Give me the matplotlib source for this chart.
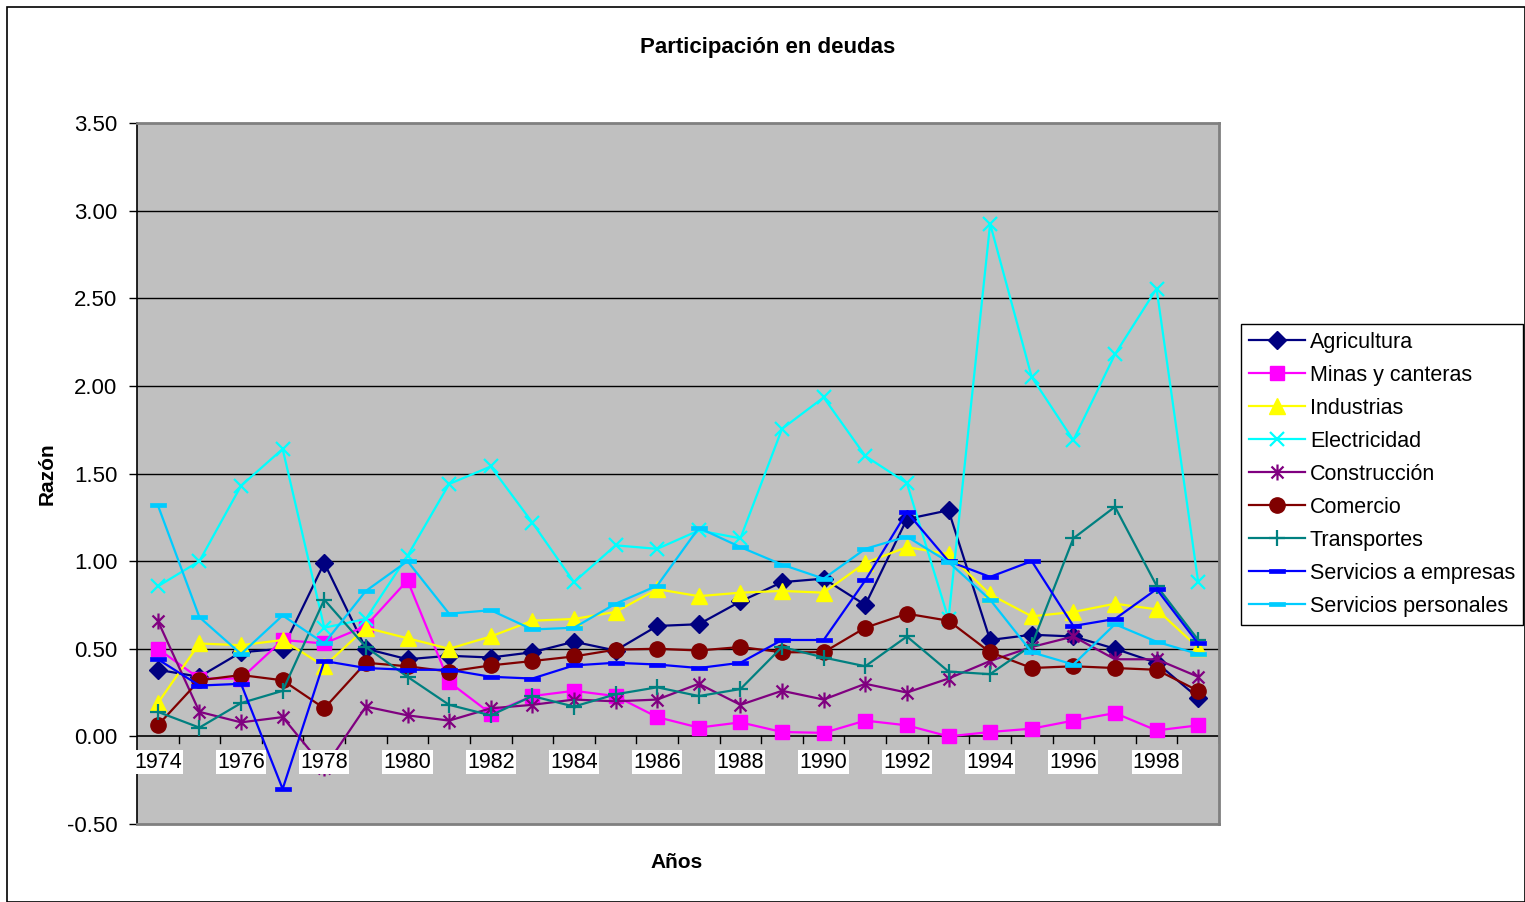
import matplotlib
matplotlib.use("Agg")
import matplotlib.pyplot as plt
from matplotlib.path import Path
from matplotlib.patches import Rectangle
import numpy as np

plt.rcParams['font.family'] = ['Liberation Sans', 'DejaVu Sans']

years = list(range(1974, 2000))
tick_labels = [str(y) for y in range(1974, 1999, 2)]

agricultura = [0.38, 0.34, 0.48, 0.50, 0.99, 0.50, 0.44, 0.46, 0.45, 0.48, 0.54, 0.49, 0.63,
               0.64, 0.77, 0.88, 0.90, 0.75, 1.24, 1.29, 0.55, 0.58, 0.57, 0.50, 0.42, 0.22]
minas = [0.50, 0.33, 0.33, 0.55, 0.53, 0.63, 0.89, 0.31, 0.13, 0.23, 0.26, 0.23, 0.11,
         0.05, 0.08, 0.025, 0.02, 0.09, 0.063, 0.00, 0.025, 0.044, 0.09, 0.133, 0.034, 0.063]
industrias = [0.19, 0.53, 0.52, 0.55, 0.40, 0.62, 0.56, 0.50, 0.57, 0.66, 0.67, 0.71, 0.84,
              0.80, 0.82, 0.83, 0.82, 0.99, 1.08, 1.04, 0.81, 0.685, 0.71, 0.757, 0.725, 0.506]
electricidad = [0.856, 1.00, 1.43, 1.64, 0.62, 0.67, 1.03, 1.44, 1.54, 1.22, 0.88, 1.09, 1.07,
                1.175, 1.13, 1.755, 1.934, 1.60, 1.445, 0.67, 2.925, 2.05, 1.69, 2.18, 2.555, 0.88]
construccion = [0.66, 0.14, 0.08, 0.11, -0.18, 0.17, 0.12, 0.09, 0.16, 0.18, 0.21, 0.20, 0.21,
                0.30, 0.18, 0.26, 0.21, 0.30, 0.25, 0.33, 0.43, 0.51, 0.57, 0.44, 0.44, 0.34]
comercio = [0.063, 0.32, 0.35, 0.32, 0.16, 0.42, 0.40, 0.37, 0.405, 0.43, 0.456, 0.495, 0.50,
            0.49, 0.51, 0.48, 0.48, 0.62, 0.70, 0.66, 0.48, 0.39, 0.40, 0.39, 0.38, 0.26]
transportes = [0.14, 0.05, 0.19, 0.26, 0.78, 0.51, 0.34, 0.18, 0.12, 0.23, 0.17, 0.24, 0.28,
               0.23, 0.27, 0.51, 0.45, 0.40, 0.57, 0.37, 0.355, 0.52, 1.13, 1.31, 0.86, 0.55]
serv_empresas = [0.44, 0.29, 0.30, -0.30, 0.43, 0.39, 0.38, 0.38, 0.34, 0.33, 0.405, 0.42, 0.41,
                 0.39, 0.42, 0.55, 0.55, 0.89, 1.28, 1.00, 0.91, 1.00, 0.63, 0.67, 0.84, 0.53]
serv_personales = [1.32, 0.68, 0.47, 0.69, 0.53, 0.83, 1.00, 0.70, 0.72, 0.61, 0.62, 0.757, 0.86,
                   1.19, 1.08, 0.98, 0.90, 1.07, 1.14, 0.995, 0.78, 0.48, 0.41, 0.64, 0.54, 0.47]

series_names = ["Agricultura", "Minas y canteras", "Industrias", "Electricidad", "Construcción",
                "Comercio", "Transportes", "Servicios a empresas", "Servicios personales"]
series_values = [agricultura, minas, industrias, electricidad, construccion, comercio,
                 transportes, serv_empresas, serv_personales]

# marker shapes
star_path = Path([(0, -1), (0, 1), (-0.75, -0.75), (0.75, 0.75), (-0.75, 0.75), (0.75, -0.75)],
                 [Path.MOVETO, Path.LINETO, Path.MOVETO, Path.LINETO, Path.MOVETO, Path.LINETO])
dash_path = Path([(-1, -0.22), (1, -0.22), (1, 0.22), (-1, 0.22), (-1, -0.22)],
                 [Path.MOVETO, Path.LINETO, Path.LINETO, Path.LINETO, Path.CLOSEPOLY])

styles = [
    dict(color='#000080', marker='D', ms=9, mfc='#000080', mec='#000080', mew=1),
    dict(color='#FF00FF', marker='s', ms=10.5, mfc='#FF00FF', mec='#FF00FF', mew=1),
    dict(color='#FFFF00', marker='^', ms=11.5, mfc='#FFFF00', mec='#FFFF00', mew=1),
    dict(color='#00FFFF', marker='x', ms=10.5, mec='#00FFFF', mew=1.6),
    dict(color='#800080', marker=star_path, ms=11.5, mec='#800080', mfc='none', mew=1.6),
    dict(color='#800000', marker='o', ms=11, mfc='#800000', mec='#800000', mew=1),
    dict(color='#008080', marker='+', ms=11.5, mec='#008080', mew=1.6),
    dict(color='#0000FF', marker=dash_path, ms=11, mfc='#0000FF', mec='#0000FF', mew=0.5),
    dict(color='#00CCFF', marker=dash_path, ms=11, mfc='#00CCFF', mec='#00CCFF', mew=0.5),
]

W, H = 1525, 902
fig = plt.figure(figsize=(W / 100, H / 100), dpi=100)
fig.patch.set_facecolor('white')

# chart area border
fig.add_artist(Rectangle((7 / W, 0), 1 - 7 / W, 1 - 7 / H, transform=fig.transFigure,
                         fill=False, edgecolor='black', linewidth=1.2))

ax = fig.add_axes([137 / W, 1 - 824 / H, (1219 - 137) / W, (824 - 123) / H])
ax.set_facecolor('#C0C0C0')

x = np.arange(len(years))
for name, vals, st in zip(series_names, series_values, styles):
    ax.plot(x, vals, linewidth=1.6, label=name, **st, zorder=3)

ax.set_xlim(-0.5, len(years) - 0.5)
ax.set_ylim(-0.5, 3.5)
ax.set_yticks(np.arange(-0.5, 3.51, 0.5))
ax.set_yticklabels([f"{v:.2f}" for v in np.arange(-0.5, 3.51, 0.5)], fontsize=16)
ax.tick_params(axis='y', direction='out', length=6, width=1, pad=8, colors='black')

for v in np.arange(0.5, 3.01, 0.5):
    ax.axhline(v, color='black', linewidth=1, zorder=1)

# plot area border
for side in ['top', 'right', 'bottom']:
    ax.spines[side].set_color('#808080')
    ax.spines[side].set_linewidth(2)
ax.spines['left'].set_color('black')
ax.spines['left'].set_linewidth(1.2)

# category axis at y = 0
ax.axhline(0, color='black', linewidth=1.2, zorder=2)
ax.set_xticks([])
for k in range(1, len(years) + 1):
    ax.plot([k - 0.5, k - 0.5], [0, -0.035], color='black', linewidth=1, zorder=2)
for i, lab in enumerate(tick_labels):
    ax.annotate(lab, xy=(2 * i, 0), xytext=(0, -11), textcoords='offset points',
                ha='center', va='top', fontsize=15.5, zorder=5,
                bbox=dict(boxstyle='square,pad=0.06', facecolor='white', edgecolor='none'))

fig.text(768 / W, 1 - 47 / H, "Participación en deudas", ha='center', va='center',
         fontsize=16, fontweight='bold')
fig.text(677 / W, 1 - 862 / H, "Años", ha='center', va='center', fontsize=15, fontweight='bold')
fig.text(47 / W, 1 - 474 / H, "Razón", ha='center', va='center', fontsize=15,
         fontweight='bold', rotation=90)

leg = fig.legend(loc='upper left', bbox_to_anchor=(1241 / W, 1 - 324 / H),
                 bbox_transform=fig.transFigure, fontsize=15.5, frameon=True, fancybox=False,
                 edgecolor='black', framealpha=1, borderaxespad=0, handlelength=2.6,
                 labelspacing=0.56, handletextpad=0.25, borderpad=0.35)
leg.get_frame().set_linewidth(1)

fig.savefig("out.png", dpi=100, facecolor='white')
